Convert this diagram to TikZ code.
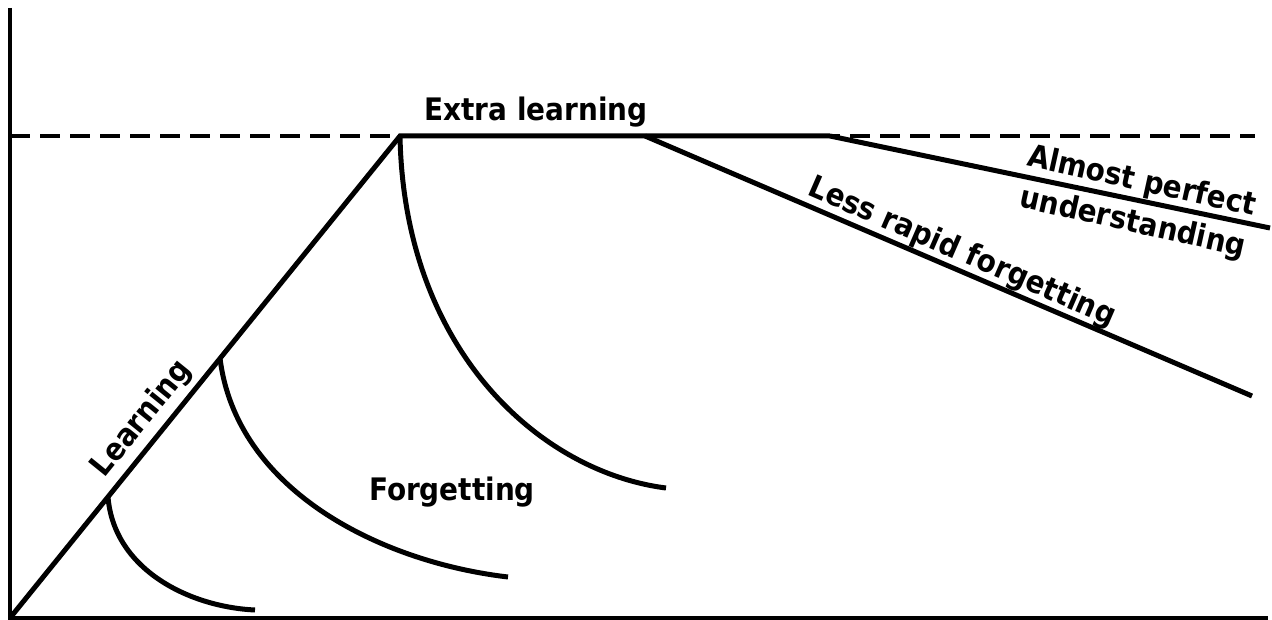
\documentclass[tikz,border=0pt]{standalone}
\usepackage{fontspec}
\setmainfont{DejaVu Sans Condensed}
\begin{document}
\begin{tikzpicture}[x=1pt,y=-1pt,
  ln/.style={line width=5pt},
  lbl/.style={font=\fontsize{31}{34}\selectfont\bfseries, inner sep=0pt, align=center}]
\useasboundingbox (0,0) rectangle (1272,620);
\coordinate (o) at (10,618);
\coordinate (ytop) at (10,8);
\coordinate (xend) at (1268,618);
\coordinate (peak) at (400,136);
\coordinate (plat) at (645,136);
\coordinate (plat2) at (830,136);
\coordinate (dend) at (1255,136);
\coordinate (dstart) at (10,136);
\coordinate (lr) at (1252,396);
\coordinate (ap) at (1270,228);
\coordinate (f1s) at (108,497);
\coordinate (f1e) at (255,610);
\coordinate (f2s) at (220,358);
\coordinate (f2e) at (508,577);
\coordinate (f3e) at (666,488);
% axes
\draw[line width=4.5pt] (ytop) -- (o) -- (xend);
% dashed
\draw[line width=4pt, dash pattern=on 20pt off 10pt] (dstart) -- (dend);
% learning
\draw[ln] (o) -- (peak) -- (plat2);
\draw[ln] (plat) -- (lr);
\draw[ln] (plat2) -- (ap);
% forgetting curves
\draw[ln] (f1s) .. controls (114,570) and (190,607) .. (f1e);
\draw[ln] (f2s) .. controls (236,490) and (380,562) .. (f2e);
\draw[ln] (peak) .. controls (404,350) and (540,472) .. (f3e);
% labels
\node[lbl] (t1) at (536,112) {Extra learning};
\node[lbl, rotate=51] (t2) at (142,419) {Learning};
\node[lbl] (t3) at (452,492) {Forgetting};
\node[lbl, rotate=-23.5] (t4) at (962,253) {Less rapid forgetting};
\node[lbl, rotate=-12.5] (t5) at (1137,203) {Almost perfect\\[8pt]understanding};
\end{tikzpicture}
\end{document}
